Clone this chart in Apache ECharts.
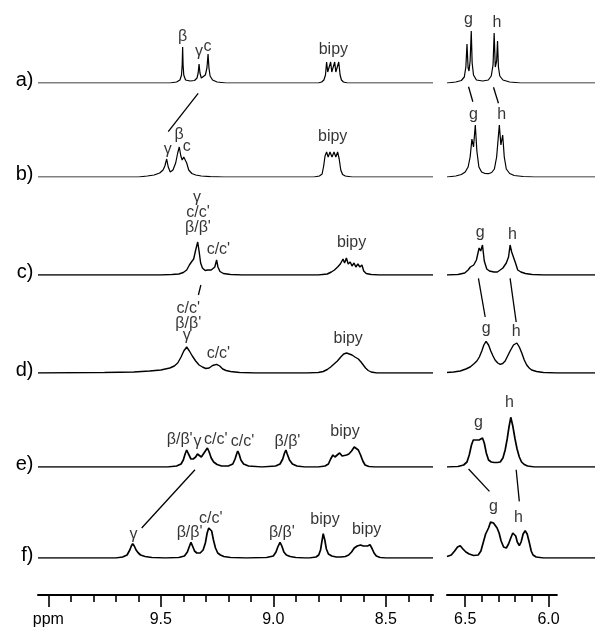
<!DOCTYPE html>
<html><head><meta charset="utf-8">
<script src="https://cdn.jsdelivr.net/npm/echarts@6/dist/echarts.min.js"></script>
<style>html,body{margin:0;padding:0;background:#fff}#c{width:595px;height:628px}</style>
</head><body><div id="c"></div>
<script>
// ---------- DATA (ppm, intensity above baseline) ----------
const rowNames = ['a)', 'b)', 'c)', 'd)', 'e)', 'f)'];

const specLeftA = [[10.046,0],[9.46,0],[9.43,1],[9.415,3],[9.408,8],[9.405,18],[9.403,36],[9.401,18],[9.398,8],[9.39,3],[9.37,2],[9.35,2.5],[9.339,5],[9.334,10],[9.330,19],[9.326,10],[9.320,5],[9.312,4.5],[9.302,8],[9.295,15],[9.290,29],[9.286,15],[9.281,7],[9.27,3],[9.25,1],[9.21,0],[8.80,0],[8.785,1],[8.775,3],[8.768,8],[8.763,21],[8.758,11],[8.754,10],[8.745,21],[8.740,11],[8.736,10],[8.727,21],[8.722,11],[8.718,10],[8.709,21],[8.703,8],[8.697,3],[8.688,1],[8.67,0],[8.29,0]];
const specRightA = [[6.609,0],[6.57,1],[6.545,2.5],[6.532,6],[6.525,16],[6.520,39],[6.515,15],[6.511,12],[6.506,22],[6.501,52],[6.497,20],[6.491,8],[6.478,3],[6.45,2],[6.425,3],[6.412,7],[6.404,18],[6.399,50],[6.394,16],[6.391,14],[6.388,22],[6.384,42],[6.380,16],[6.374,7],[6.36,3],[6.33,1],[6.28,0],[5.95,0]];

const specLeftB = [[10.046,0],[9.60,0],[9.56,1],[9.53,2],[9.505,4],[9.49,7],[9.482,11],[9.474,18],[9.467,10],[9.458,5],[9.446,7],[9.434,14],[9.425,24],[9.418,30],[9.411,21],[9.405,17],[9.398,20],[9.392,22],[9.385,14],[9.376,7],[9.362,3.5],[9.345,2],[9.32,1],[9.28,0.3],[9.22,0],[8.82,0],[8.795,1],[8.783,3],[8.776,11],[8.770,21],[8.763,25],[8.756,20],[8.748,25],[8.739,20],[8.730,25],[8.722,20],[8.714,25],[8.707,18],[8.700,7],[8.692,2.5],[8.68,1],[8.65,0],[8.29,0]];
const specRightB = [[6.609,0],[6.57,1],[6.545,2.5],[6.528,5],[6.515,10],[6.506,20],[6.498,38],[6.491,30],[6.483,52],[6.476,26],[6.467,10],[6.455,5],[6.44,3.5],[6.425,3.3],[6.41,4.5],[6.398,8],[6.388,20],[6.376,52],[6.369,32],[6.361,42],[6.354,20],[6.345,8],[6.33,3.5],[6.31,1.5],[6.27,0.5],[6.22,0],[5.95,0]];

const specLeftC = [[10.046,0],[9.50,0],[9.45,0.5],[9.42,1],[9.40,2.5],[9.385,5],[9.373,10],[9.364,13],[9.354,16],[9.345,25],[9.336,33],[9.330,24],[9.323,12],[9.315,7],[9.303,4.5],[9.292,5],[9.284,7],[9.276,5],[9.268,4],[9.260,8],[9.252,15],[9.246,8],[9.237,3.5],[9.222,1.5],[9.19,0.5],[9.14,0],[8.80,0],[8.76,1],[8.742,3],[8.728,5],[8.714,8],[8.702,11],[8.690,16],[8.683,12],[8.675,17],[8.667,11],[8.658,13],[8.650,9],[8.641,12],[8.633,8],[8.624,11],[8.615,8],[8.606,10],[8.598,4],[8.587,1.5],[8.565,0.5],[8.53,0],[8.29,0]];
const specRightC = [[6.609,0],[6.56,0.5],[6.53,2],[6.515,5],[6.505,8],[6.49,10],[6.478,15],[6.466,27],[6.459,24],[6.451,30],[6.443,14],[6.432,6],[6.42,4],[6.40,3],[6.385,3],[6.372,5],[6.36,7],[6.345,12],[6.335,18],[6.328,30],[6.321,23],[6.313,25],[6.304,12],[6.294,5],[6.28,3],[6.26,1.5],[6.23,0.5],[6.18,0],[5.95,0]];

const specLeftD = [[10.046,0],[9.75,0.5],[9.62,1],[9.55,2],[9.50,3],[9.46,5],[9.44,7],[9.425,10],[9.41,16],[9.398,22],[9.385,26],[9.373,22],[9.36,17],[9.345,12],[9.33,8],[9.315,6],[9.30,4.5],[9.285,5],[9.27,7.5],[9.252,8.7],[9.238,7],[9.225,4],[9.21,2.5],[9.19,1.5],[9.15,0.5],[9.08,0],[8.85,0],[8.80,0.5],[8.778,1.5],[8.76,3.5],[8.745,6],[8.73,9],[8.715,12],[8.70,16],[8.687,19],[8.674,20],[8.662,19],[8.65,18],[8.637,16],[8.622,14],[8.61,11],[8.60,8],[8.59,5],[8.578,2.5],[8.565,1],[8.54,0],[8.29,0]];
const specRightD = [[6.609,0.5],[6.58,1],[6.55,2],[6.525,4],[6.506,6],[6.49,9],[6.476,12],[6.465,16],[6.454,22],[6.445,28],[6.435,31.7],[6.424,28],[6.414,22],[6.404,17],[6.395,13],[6.383,10],[6.372,8.7],[6.361,9.5],[6.35,12],[6.339,17],[6.328,22],[6.313,28],[6.298,30],[6.287,26],[6.276,20],[6.265,13],[6.254,8],[6.243,5],[6.232,3],[6.21,1.5],[6.18,0.5],[6.12,0],[5.95,0]];

const specLeftE = [[10.046,0],[9.47,0],[9.43,1],[9.41,3],[9.40,7],[9.392,13],[9.385,17],[9.377,13],[9.366,8],[9.356,8],[9.345,10],[9.337,13],[9.329,14],[9.320,10],[9.312,11],[9.302,16],[9.293,19],[9.285,15],[9.276,9],[9.265,5],[9.25,2.5],[9.23,1],[9.20,1],[9.18,3],[9.17,8],[9.163,13],[9.158,16],[9.152,13],[9.144,7],[9.132,3],[9.11,1],[9.05,0],[8.99,1],[8.97,3],[8.958,8],[8.950,14],[8.944,17],[8.938,13],[8.928,7],[8.915,3],[8.895,1],[8.86,0],[8.80,0],[8.77,1],[8.755,3],[8.745,8],[8.735,12],[8.726,10],[8.716,12],[8.705,14],[8.694,11],[8.686,10],[8.674,12],[8.664,13],[8.652,16],[8.640,20],[8.632,18],[8.622,17],[8.612,12],[8.602,6],[8.592,2],[8.575,0.5],[8.55,0],[8.29,0]];
const specRightE = [[6.609,0],[6.56,0.5],[6.535,2],[6.52,5],[6.51,12],[6.5,22],[6.492,27],[6.484,29],[6.475,27],[6.466,27],[6.458,28],[6.451,29],[6.443,24],[6.434,14],[6.424,7],[6.412,5],[6.398,4.5],[6.385,4.5],[6.372,5],[6.36,9],[6.35,17],[6.341,28],[6.333,40],[6.325,49.7],[6.316,41],[6.306,28],[6.297,18],[6.287,10],[6.277,5],[6.265,2.5],[6.25,1],[6.22,0],[5.95,0]];

const specLeftF = [[10.046,0],[9.70,0],[9.67,1],[9.65,3],[9.638,8],[9.631,12],[9.625,14.3],[9.618,12],[9.61,8],[9.60,5],[9.59,3],[9.57,1.5],[9.54,0.5],[9.48,0],[9.42,0.5],[9.395,2],[9.382,6],[9.374,11],[9.366,15.7],[9.359,12],[9.350,7],[9.340,5],[9.325,5],[9.312,8],[9.302,15],[9.294,25],[9.287,30],[9.281,31],[9.274,27],[9.266,18],[9.257,10],[9.247,5],[9.235,3],[9.22,1.5],[9.19,0.5],[9.12,0],[9.03,0.5],[9.0,2],[8.988,6],[8.980,11],[8.970,15.7],[8.962,12],[8.953,6],[8.942,3],[8.925,1.5],[8.90,0.5],[8.86,0],[8.84,0],[8.81,1],[8.798,3],[8.79,8],[8.785,15],[8.778,24.3],[8.771,18],[8.764,9],[8.755,4],[8.74,2],[8.72,1],[8.70,1],[8.68,1.5],[8.665,3],[8.652,6],[8.640,10],[8.627,12],[8.612,13],[8.600,12],[8.592,13.3],[8.581,12],[8.570,13.3],[8.560,9],[8.552,5],[8.542,2],[8.525,0.5],[8.50,0],[8.29,0]];
const specRightF = [[6.609,1.5],[6.59,3],[6.575,7],[6.562,11],[6.550,12.3],[6.538,9],[6.525,6],[6.51,4],[6.49,2.5],[6.47,3],[6.458,7],[6.447,16],[6.437,24],[6.424,30],[6.415,36],[6.409,37.3],[6.402,35],[6.395,36],[6.386,30],[6.377,25],[6.368,17],[6.357,11],[6.345,10],[6.335,14],[6.325,20],[6.316,25],[6.310,25.7],[6.303,22],[6.296,16],[6.287,12.3],[6.279,16],[6.270,24],[6.261,27.3],[6.252,24],[6.242,15],[6.234,7],[6.226,3],[6.212,1],[6.18,0],[5.95,0]];

// peak annotations: [ppm, height above baseline, text]
const labelsA = [[9.403,46,'β'],[9.330,31,'γ'],[9.292,36,'c'],[8.733,33,'bipy'],[6.513,63,'g'],[6.387,60,'h']];
const labelsB = [[9.469,27,'γ'],[9.419,42,'β'],[9.385,30,'c'],[8.736,40,'bipy'],[6.491,62,'g'],[6.365,62,'h']];
const labelsC = [[9.339,77,'γ'],[9.335,62.5,"c/c'"],[9.335,47.5,"β/β'"],[9.244,25,"c/c'"],[8.652,32,'bipy'],[6.461,42,'g'],[6.318,40,'h']];
const labelsD = [[9.378,64.4,"c/c'"],[9.378,49.4,"β/β'"],[9.385,37.7,'γ'],[9.244,19.4,"c/c'"],[8.667,34.4,'bipy'],[6.435,44.4,'g'],[6.301,41,'h']];
const labelsE = [[9.416,27,"β/β'"],[9.337,25.5,'γ'],[9.256,27,"c/c'"],[9.137,25.5,"c/c'"],[8.937,25.5,"β/β'"],[8.681,35.6,'bipy'],[6.469,44,'g'],[6.331,64.6,'h']];
const labelsF = [[9.622,23.3,'γ'],[9.372,25,"β/β'"],[9.278,39,"c/c'"],[8.962,25,"β/β'"],[8.770,38.3,'bipy'],[8.585,28.3,'bipy'],[6.402,51.6,'g'],[6.291,40,'h']];

// correlation lines: [fromRow, ppm, height, toRow, ppm, height]
const connectors = [
  [0,9.334,-10.3,1,9.467,45.3],[0,6.513,-3.7,1,6.494,75.3],[0,6.402,-4.3,1,6.380,73.7],
  [2,9.322,-10,3,9.333,78],[2,6.469,-3.3,3,6.439,56],[2,6.328,-3.3,3,6.301,51],
  [4,9.348,-2.7,5,9.585,30],[4,6.513,-2,5,6.420,66.6],[4,6.301,-2.7,5,6.287,56.6]
];

// axis ticks
const majorTicksLeft = [10.0, 9.5, 9.0, 8.5];
const majorLabelsLeft = ['ppm', '9.5', '9.0', '8.5'];
const minorTicksLeft = [9.9, 9.8, 9.7, 9.6, 9.4, 9.3, 9.2, 9.1, 8.9, 8.8, 8.7, 8.6, 8.4, 8.3];
const majorTicksRight = [6.5, 6.0];
const majorLabelsRight = ['6.5', '6.0'];
const minorTicksRight = [6.4, 6.3, 6.2, 6.1];

// ---------- LAYOUT ----------
const FONT = '"Liberation Sans", Arial, Helvetica, sans-serif';
const LEFT = {left: 38, width: 395, min: 8.29, max: 10.046};
const RIGHT = {left: 447, width: 148, min: 5.95, max: 6.609};
const BASE = [83, 177, 275, 373, 467, 558];
const AXIS_Y = 598;
const GH = 80;

const rows = [
  {left: specLeftA, right: specRightA, labels: labelsA, lw: 1.2},
  {left: specLeftB, right: specRightB, labels: labelsB, lw: 1.2},
  {left: specLeftC, right: specRightC, labels: labelsC, lw: 1.4},
  {left: specLeftD, right: specRightD, labels: labelsD, lw: 1.4},
  {left: specLeftE, right: specRightE, labels: labelsE, lw: 1.7},
  {left: specLeftF, right: specRightF, labels: labelsF, lw: 1.7}
];

const grids = [], xAxes = [], yAxes = [], series = [];
rows.forEach((r, i) => {
  [[LEFT, r.left], [RIGHT, r.right]].forEach(([P, data], k) => {
    const gi = grids.length;
    grids.push({left: P.left, width: P.width, top: BASE[i] - GH, height: GH});
    xAxes.push({gridIndex: gi, type: 'value', min: P.min, max: P.max, inverse: true, show: false});
    yAxes.push({gridIndex: gi, type: 'value', min: 0, max: GH, show: false});
    series.push({type: 'line', xAxisIndex: gi, yAxisIndex: gi, data: data, showSymbol: false, symbol: 'none',
      lineStyle: {color: '#000', width: r.lw}, silent: true, clip: true});
    const labs = r.labels.filter(l => (k === 0 ? l[0] > 7 : l[0] < 7));
    series.push({type: 'scatter', xAxisIndex: gi, yAxisIndex: gi, symbolSize: 1, silent: true, clip: false,
      itemStyle: {color: 'rgba(0,0,0,0)'},
      data: labs.map(l => ({value: [l[0], l[1]], name: l[2]})),
      label: {show: true, position: 'inside', formatter: '{b}', color: '#000', fontSize: 16, fontFamily: FONT}});
  });
});

// axis grids
const axisPanels = [[LEFT, majorTicksLeft, majorLabelsLeft, minorTicksLeft], [RIGHT, majorTicksRight, majorLabelsRight, minorTicksRight]];
const axisGridStart = grids.length;
axisPanels.forEach(([P]) => {
  const gi = grids.length;
  grids.push({left: P.left, width: P.width, top: AXIS_Y - 8, height: 8});
  yAxes.push({gridIndex: gi, type: 'value', min: 0, max: 1, show: false});
});
axisPanels.forEach(([P, majors, majorLabels], k) => {
  xAxes.push({gridIndex: axisGridStart + k, type: 'value', position: 'bottom', min: P.min, max: P.max, inverse: true,
    axisLine: {show: true, onZero: false, lineStyle: {color: '#000', width: 2}},
    axisTick: {show: true, customValues: majors, length: 12, lineStyle: {color: '#000', width: 1.6}},
    axisLabel: {show: true, customValues: majors, margin: 17, fontSize: 16, color: '#000', fontFamily: FONT,
      formatter: v => { const j = majors.findIndex(t => Math.abs(t - v) < 1e-6); return j >= 0 ? majorLabels[j] : ''; }},
    splitLine: {show: false}});
});
axisPanels.forEach(([P, , , minors], k) => {
  xAxes.push({gridIndex: axisGridStart + k, type: 'value', position: 'bottom', min: P.min, max: P.max, inverse: true,
    axisLine: {show: false, onZero: false},
    axisTick: {show: true, customValues: minors, length: 7, lineStyle: {color: '#000', width: 1.6}},
    axisLabel: {show: false}, splitLine: {show: false}});
});

const chart = echarts.init(document.getElementById('c'), null, {renderer: 'canvas'});
chart.setOption({
  animation: false,
  backgroundColor: '#fff',
  grid: grids, xAxis: xAxes, yAxis: yAxes, series: series
});

// annotations placed through the chart's own coordinate conversion
const graphics = [];
rowNames.forEach((name, i) => {
  const p = chart.convertToPixel({gridIndex: 2 * i}, [LEFT.max, 0]);
  graphics.push({type: 'text', x: p[0] - 4.5, y: p[1] - 2.5,
    style: {text: name, fill: '#000', font: '20px ' + FONT, textAlign: 'right', textVerticalAlign: 'middle'}});
});
connectors.forEach(c => {
  const g1 = 2 * c[0] + (c[1] > 7 ? 0 : 1);
  const g2 = 2 * c[3] + (c[4] > 7 ? 0 : 1);
  const p1 = chart.convertToPixel({gridIndex: g1}, [c[1], c[2]]);
  const p2 = chart.convertToPixel({gridIndex: g2}, [c[4], c[5]]);
  graphics.push({type: 'line', shape: {x1: p1[0], y1: p1[1], x2: p2[0], y2: p2[1]},
    style: {stroke: '#000', lineWidth: 1.3}});
});
chart.setOption({graphic: graphics});
</script></body></html>
